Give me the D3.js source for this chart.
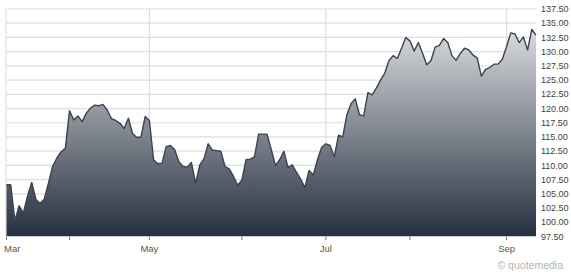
<!DOCTYPE html>
<html>
<head>
<meta charset="utf-8">
<script src="https://cdn.jsdelivr.net/npm/d3@7"></script>
<style>
    body { margin: 0; background: #fff; }
    svg { display: block; }
</style>
</head>
<body>
<div id="chart"></div>
<script>
// daily closes, one per trading day (mid Mar - early Sep)
const closes = [
    106.6, 106.6, 100.3, 102.9, 101.6, 104.6, 107.0, 104.0, 103.3, 104.1,
    106.9, 109.9, 111.3, 112.4, 113.0, 119.6, 118.0, 118.7, 117.7, 119.2,
    120.1, 120.6, 120.5, 120.7, 119.7, 118.2, 117.9, 117.4, 116.5, 118.3,
    115.6, 114.9, 115.0, 118.6, 117.9, 111.0, 110.3, 110.4, 113.3, 113.5,
    112.8, 110.7, 109.8, 109.7, 110.5, 106.9, 110.1, 111.2, 113.8, 112.7,
    112.6, 112.5, 109.8, 109.4, 108.1, 106.5, 107.4, 111.0, 111.1, 111.5,
    115.5, 115.5, 115.5, 112.8, 110.0, 111.0, 112.5, 109.6, 110.1, 108.8,
    107.6, 106.1, 109.1, 108.3, 111.0, 113.2, 113.8, 113.5, 111.5, 115.3,
    115.0, 118.9, 120.9, 121.7, 118.9, 118.7, 122.8, 122.4, 123.6, 125.0,
    126.2, 128.4, 129.3, 128.8, 130.6, 132.5, 131.9, 130.1, 131.6, 129.7,
    127.7, 128.4, 130.8, 131.1, 132.3, 131.6, 129.3, 128.5, 129.7, 130.6,
    130.3, 129.4, 128.9, 125.7, 126.9, 127.2, 127.8, 127.8, 128.7, 130.9,
    133.3, 133.1, 131.6, 132.6, 130.3, 133.9, 132.9
];

// month ticks (trading-day index of month start)
const monthIdx = [0, 15, 34, 56, 76, 96, 119];
const monthLabels = ["Mar", "", "May", "", "Jul", "", "Sep"];

const yTicks = d3.range(97.5, 137.5 + 0.01, 2.5);

const width = 571, height = 272;
const margin = { left: 6.5, top: 9, right: 35, bottom: 35.5 };

const svg = d3.select("#chart")
    .append("svg")
    .attr("width", width)
    .attr("height", height);

const x = d3.scaleLinear()
    .domain([0, closes.length - 1])
    .range([margin.left, width - margin.right]);

const y = d3.scaleLinear()
    .domain([97.5, 137.5])
    .range([height - margin.bottom, margin.top]);

const defs = svg.append("defs");
const grad = defs.append("linearGradient")
    .attr("id", "fillGrad")
    .attr("gradientUnits", "userSpaceOnUse")
    .attr("x1", 0).attr("x2", 0)
    .attr("y1", y(137.5)).attr("y2", y(97.5));
grad.append("stop").attr("offset", "0%").attr("stop-color", "#eaebec");
grad.append("stop").attr("offset", "100%").attr("stop-color", "#263040");

// horizontal grid
svg.append("g")
    .selectAll("line")
    .data(yTicks)
    .enter()
    .append("line")
    .attr("x1", x.range()[0] - 0.5)
    .attr("x2", x.range()[1])
    .attr("y1", (d) => y(d))
    .attr("y2", (d) => y(d))
    .attr("stroke", "#dedede")
    .attr("stroke-width", 1.2);

// vertical grid at labelled months
svg.append("g")
    .selectAll("line")
    .data(monthIdx.filter((d, i) => monthLabels[i] !== ""))
    .enter()
    .append("line")
    .attr("x1", (d) => x(d) - (d === 0 ? 0.5 : 0))
    .attr("x2", (d) => x(d) - (d === 0 ? 0.5 : 0))
    .attr("y1", y(137.5))
    .attr("y2", y(97.5))
    .attr("stroke", "#dedede")
    .attr("stroke-width", 1.2);

const area = d3.area()
    .x((d, i) => x(i))
    .y0(y(97.5))
    .y1((d) => y(d));

const line = d3.line()
    .x((d, i) => x(i))
    .y((d) => y(d));

svg.append("path")
    .datum(closes)
    .attr("d", area)
    .attr("fill", "url(#fillGrad)");

svg.append("path")
    .datum(closes)
    .attr("d", line)
    .attr("fill", "none")
    .attr("stroke", "#3a4350")
    .attr("stroke-width", 1.4)
    .attr("stroke-linejoin", "round");

// bottom axis line + ticks
svg.append("line")
    .attr("x1", x.range()[0] - 0.5)
    .attr("x2", x.range()[1])
    .attr("y1", y(97.5))
    .attr("y2", y(97.5))
    .attr("stroke", "#c8c8c8")
    .attr("stroke-width", 1.2);

svg.append("g")
    .selectAll("line")
    .data(monthIdx)
    .enter()
    .append("line")
    .attr("x1", (d) => x(d))
    .attr("x2", (d) => x(d))
    .attr("y1", y(97.5))
    .attr("y2", y(97.5) + 3.5)
    .attr("stroke", "#777")
    .attr("stroke-width", 1);

svg.append("g")
    .selectAll("text")
    .data(monthIdx.filter((d, i) => monthLabels[i] !== ""))
    .enter()
    .append("text")
    .attr("x", (d) => d === 0 ? x(d) - 2.5 : x(d))
    .attr("y", y(97.5) + 15)
    .attr("text-anchor", (d) => d === 0 ? "start" : "middle")
    .attr("font-family", "Liberation Sans, Arial, sans-serif")
    .attr("font-size", "9.5px")
    .attr("fill", "#5a5550")
    .text((d) => monthLabels[monthIdx.indexOf(d)]);

// right value labels
svg.append("g")
    .selectAll("text")
    .data(yTicks)
    .enter()
    .append("text")
    .attr("x", x.range()[1] + 5)
    .attr("y", (d) => y(d))
    .attr("dy", "0.35em")
    .attr("font-family", "Liberation Sans, Arial, sans-serif")
    .attr("font-size", "9px")
    .attr("fill", "#3c3f46")
    .text((d) => d.toFixed(2));

svg.append("text")
    .attr("x", 563)
    .attr("y", 265)
    .attr("dy", "0.35em")
    .attr("text-anchor", "end")
    .attr("font-family", "Liberation Sans, Arial, sans-serif")
    .attr("font-size", "10.5px")
    .attr("fill", "#b4b4b4")
    .text("\u00a9 quotemedia");
</script>
</body>
</html>
